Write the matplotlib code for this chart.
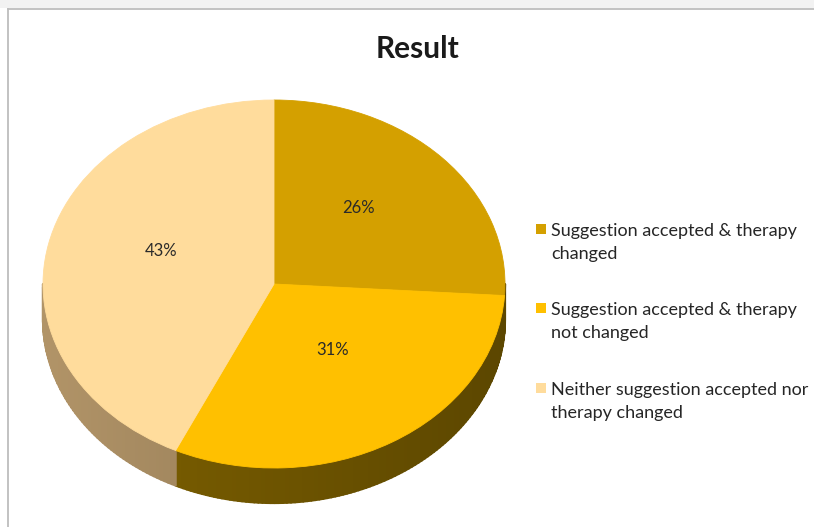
import numpy as np
import matplotlib.pyplot as plt
from matplotlib.collections import PolyCollection
from matplotlib.patches import Rectangle
from matplotlib.lines import Line2D

# dati della torta
categorie = ['Suggestion accepted & therapy\nchanged',
             'Suggestion accepted & therapy\nnot changed',
             'Neither suggestion accepted nor\ntherapy changed']
percentuali = [26, 31, 43]
colori_sopra = ['#D4A000', '#FFC000', '#FFDC9C']
colori_lato = [(0.40, 0.30, 0.0), (0.43, 0.33, 0.0), (0.60, 0.50, 0.35)]

plt.rcParams['font.family'] = ['Lato', 'DejaVu Sans']

W, H = 814, 527
fig = plt.figure(figsize=(W / 100, H / 100), dpi=100)

# cornice del grafico
fig.patches.append(Rectangle((0, (H - 8) / H), 1, 8 / H, transform=fig.transFigure,
                             facecolor='#f2f2f2', edgecolor='none'))
fig.lines.append(Line2D([8 / W, 8 / W], [0, (H - 9) / H], transform=fig.transFigure,
                        color='#bdbdbd', lw=1.3))
fig.lines.append(Line2D([8 / W, 1], [(H - 9) / H, (H - 9) / H], transform=fig.transFigure,
                        color='#bdbdbd', lw=1.3))

# geometria dell'ellisse in pixel
cx, cy, rx, ry, spessore = 274, 284, 231, 184, 35
xlim = (-1.15, 1.15)
ylim = (-1.35, 1.15)
ax = fig.add_axes([(cx + xlim[0] * rx) / W, (H - cy + ylim[0] * ry) / H,
                   (xlim[1] - xlim[0]) * rx / W, (ylim[1] - ylim[0]) * ry / H])

wedges, testi, pct = ax.pie(percentuali, colors=colori_sopra, startangle=90, counterclock=False,
                            autopct=lambda p: f'{p:.0f}%', pctdistance=0.5,
                            wedgeprops=dict(linewidth=0.6), textprops=dict(fontsize=12, color='#2a2a2a'))
for w in wedges:
    w.set_edgecolor(w.get_facecolor())
    w.set_zorder(3)
# le etichette salgono un po' per la prospettiva del vertice
for t in pct:
    t.set_zorder(4)
    t.set_y(t.get_position()[1] + 0.07)

# lato della torta: fascia sotto l'arco frontale di ogni fetta
d = spessore / ry
for w, col in zip(wedges, colori_lato):
    t1, t2 = w.theta1, w.theta2
    polys, facce = [], []
    for k in (-1, 0, 1):
        a, b = max(t1, 180 + 360 * k), min(t2, 360 + 360 * k)
        if b <= a:
            continue
        ang = np.radians(np.linspace(a, b, max(int(b - a), 2)))
        for a1, a2 in zip(ang[:-1], ang[1:]):
            polys.append([(np.cos(a1), np.sin(a1)), (np.cos(a2), np.sin(a2)),
                          (np.cos(a2), np.sin(a2) - d), (np.cos(a1), np.sin(a1) - d)])
            s = -np.cos((a1 + a2) / 2)
            facce.append(tuple(np.clip(np.array(col) * (1 + 0.16 * s), 0, 1)))
    if polys:
        ax.add_collection(PolyCollection(polys, facecolors=facce, edgecolors=facce,
                                         linewidths=1.6, zorder=2))

ax.set_aspect('auto')
ax.set_xlim(xlim)
ax.set_ylim(ylim)
ax.axis('off')

fig.text(418 / W, (H - 49) / H, 'Result', ha='center', va='center',
         fontsize=21.5, fontweight='bold', color='#1a1a1a')

# legenda: quadratino sulla prima riga, testo allineato sull'ultima
prima_riga = [229, 308, 388]
for w, lab, y in zip(wedges, categorie, prima_riga):
    fig.patches.append(Rectangle((536 / W, (H - y - 5) / H), 10 / W, 10 / H,
                                 transform=fig.transFigure,
                                 facecolor=w.get_facecolor(), edgecolor='none'))
    fig.text(551 / W, (H - y - 30) / H, lab, ha='left', va='baseline', fontsize=13,
             color='#262626', linespacing=1.55)

fig.savefig('out.png', dpi=100)
